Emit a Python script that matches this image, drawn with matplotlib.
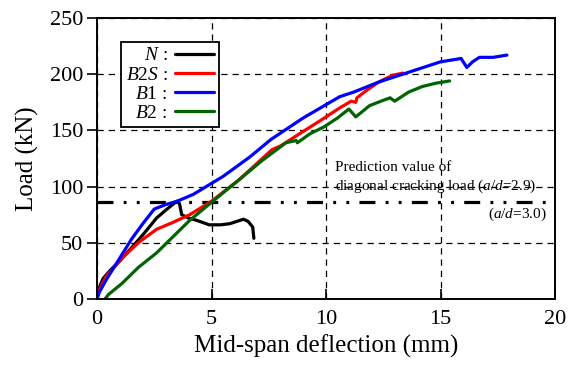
"""Load vs. mid-span deflection for beams N, B2S, B1 and B2."""

import matplotlib
matplotlib.use('Agg')
import matplotlib.pyplot as plt

plt.rcParams['font.family'] = ['Liberation Serif', 'DejaVu Serif']
plt.rcParams['mathtext.fontset'] = 'custom'
plt.rcParams['mathtext.rm'] = 'Liberation Serif'
plt.rcParams['mathtext.it'] = 'Liberation Serif:italic'

# curves (deflection mm, load kN)
n_defl = [0.0, 0.1, 0.26, 0.6, 1.0, 1.57, 2.0, 2.6, 3.0, 3.3, 3.48, 3.6, 3.7,
          4.0, 4.35, 4.9, 5.4, 5.8, 6.1, 6.4, 6.6, 6.8, 6.85]
n_load = [0.0, 10, 18, 26, 34, 47, 57, 72, 79, 84, 87, 85, 75,
          72, 70, 66, 66, 67, 69, 71, 69, 64, 54]

b2s_defl = [0.0, 0.1, 0.4, 0.7, 1.13, 1.8, 2.6, 3.3, 4.05, 5.0, 6.2, 7.65,
            8.0, 9.0, 9.85, 10.6, 11.1, 11.3, 11.35, 11.8, 12.3, 12.9, 13.35]
b2s_load = [0.0, 8, 20, 27, 37, 50, 62, 68, 75, 87, 106, 133,
            136, 149, 160, 170, 176, 175, 179, 186, 193, 199, 201]

b1_defl = [0.0, 0.1, 0.4, 0.8, 1.5, 2.0, 2.5, 3.0, 3.5, 4.2, 5.5, 6.65,
           7.6, 9.0, 10.6, 11.2, 12.3, 13.5, 15.0, 15.9, 16.15, 16.4,
           16.7, 17.3, 17.9]
b1_load = [0.0, 6, 17, 30, 53, 67, 80, 84, 87, 93, 109, 126,
           142, 161, 180, 184, 193, 201, 211, 214, 206, 211,
           215, 215, 217]

b2_defl = [0.35, 0.5, 1.1, 1.8, 2.6, 3.3, 4.05, 5.0, 6.2, 7.2, 8.25, 8.7,
           8.75, 9.3, 9.9, 10.5, 11.0, 11.3, 11.9, 12.4, 12.8, 13.0,
           13.6, 14.2, 14.8, 15.4]
b2_load = [0.0, 4, 14, 28, 41, 55, 70, 86, 106, 123, 139, 141,
           139, 147, 153, 161, 169, 162, 172, 176, 179, 176,
           184, 189, 192, 194]

series_labels = ['$N$ :', '$B2S$ :', '$B1$ :', '$B2$ :']
series_colors = ['black', 'red', 'blue', 'darkgreen']

crack_load = 86.0
x_ticks = [0, 5, 10, 15, 20]
y_ticks = [0, 50, 100, 150, 200, 250]

fig = plt.figure(figsize=(5.71, 3.79), dpi=100)
ax = fig.add_axes([97 / 571, 1 - 299 / 379, 458 / 571, 281 / 379])

curves = [(n_defl, n_load), (b2s_defl, b2s_load),
          (b1_defl, b1_load), (b2_defl, b2_load)]
handles = []
for (x, y), lab, col in zip(curves, series_labels, series_colors):
    h, = ax.plot(x, y, color=col, lw=2.3, label=lab, solid_capstyle='round')
    handles.append(h)

ax.axhline(crack_load, color='black', lw=2.3,
           linestyle=(0, (5.0, 3.2, 0.9, 3.2, 0.9, 3.2)), zorder=1)

ax.text(10.4, 117, 'Prediction value of', fontsize=11, va='center', ha='left')
ax.text(10.4, 100, 'diagonal cracking load ($a/d$=2.9)', fontsize=11,
        va='center', ha='left')
ax.text(19.65, 75, '($a/d$=3.0)', fontsize=11, va='center', ha='right')

ax.set_xlim(0, 20)
ax.set_ylim(0, 250)
ax.set_xticks(x_ticks)
ax.set_yticks(y_ticks)
ax.grid(True, color='black', linestyle=(0, (5, 4)), lw=0.9)
ax.tick_params(axis='x', direction='in', length=7, width=1.2,
               labelsize=16, pad=8)
ax.tick_params(axis='y', direction='out', length=7, width=1.2,
               labelsize=16, pad=3)
for sp in ax.spines.values():
    sp.set_linewidth(1.4)

ax.set_xlabel('Mid-span deflection (mm)', fontsize=18, labelpad=4)
ax.set_ylabel('Load (kN)', fontsize=18, labelpad=8)

leg = ax.legend(handles=handles, loc='upper left',
                bbox_to_anchor=(0.052, 0.915), borderaxespad=0,
                markerfirst=False, fontsize=14, frameon=True, fancybox=False,
                edgecolor='black', framealpha=1, handlelength=2.0,
                handletextpad=0.4, labelspacing=0.08, borderpad=0.25)
leg.get_frame().set_linewidth(1.3)

fig.savefig('out.png', dpi=100)
